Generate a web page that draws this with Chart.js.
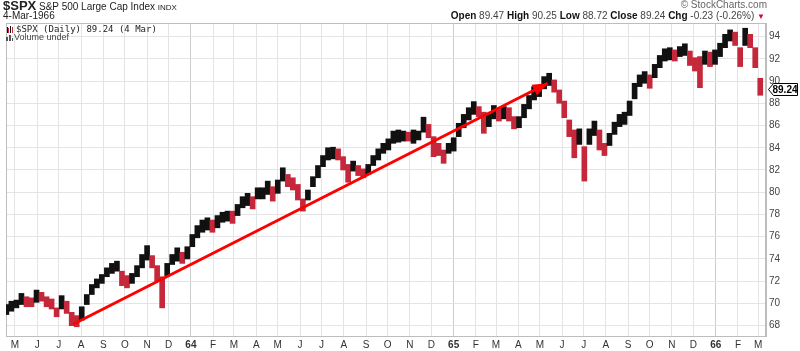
<!DOCTYPE html>
<html>
<head>
<meta charset="utf-8">
<script src="https://cdn.jsdelivr.net/npm/chart.js@4.4.1/dist/chart.umd.min.js"></script>
<style>
  html, body { margin: 0; padding: 0; background: #fff; }
  #wrap { position: relative; width: 800px; height: 351px; font-family: "Liberation Sans", Arial, sans-serif; font-size: 10px; color: #222; }
  #chart { position: absolute; left: 0; top: 0; }
  .t { position: absolute; white-space: nowrap; line-height: 1; }
  .mono { font-family: "DejaVu Sans Mono", "Liberation Mono", monospace; }
</style>
</head>
<body>
<div id="wrap">
  <canvas id="chart" width="800" height="351"></canvas>
  <div class="t" style="left:3px; top:-1px;"><b style="font-size:13px">$SPX</b> <span style="font-size:10px">S&amp;P 500 Large Cap Index</span> <span style="font-size:8px">INDX</span></div>
  <div class="t" style="left:3px; top:11px; font-size:10px;">4-Mar-1966</div>
  <div class="t" style="right:33px; top:0px; font-size:10px; color:#666;">&copy; StockCharts.com</div>
  <div class="t" style="right:35px; top:11px; font-size:10px; color:#444;"><b style="color:#111">Open</b> 89.47 <b style="color:#111">High</b> 90.25 <b style="color:#111">Low</b> 88.72 <b style="color:#111">Close</b> 89.24 <b style="color:#111">Chg</b> -0.23 (-0.26%) <span style="color:#c8102e; font-size:8px;">&#9660;</span></div>
  <div class="t mono" style="left:16px; top:25px; font-size:9px;">$SPX (Daily) 89.24 (4 Mar)</div>
  <div class="t" style="left:14px; top:33px; font-size:9px; color:#444;">Volume undef</div>
</div>
<script>
// weekly ranges, week ending Fri 19-Apr-1963 .. Fri 4-Mar-1966
const firstWeek = Date.UTC(1963, 3, 19);
const weekLow = [
  69.0, 69.3, 69.6, 69.9, 69.7, 69.7, 70.1, 70.2, 69.7, 69.5,
  68.8, 69.5, 69.1, 68.0, 67.9, 68.5, 69.9, 70.8, 71.4, 71.8,
  72.4, 72.7, 72.9, 71.6, 71.4, 71.8, 72.4, 73.2, 73.9, 73.2,
  72.0, 69.6, 72.5, 73.5, 73.8, 73.6, 74.0, 75.1, 75.9, 76.4,
  76.6, 76.4, 76.8, 77.3, 77.4, 77.2, 77.9, 78.6, 78.8, 78.5,
  79.4, 79.4, 79.8, 79.2, 79.9, 81.0, 80.5, 80.2, 79.3, 78.3,
  79.3, 80.5, 81.3, 82.3, 82.9, 83.0, 82.9, 82.0, 80.9, 81.9,
  81.5, 81.3, 81.6, 82.4, 82.9, 83.5, 83.8, 84.4, 84.5, 84.6,
  84.6, 84.4, 84.7, 85.4, 84.9, 83.2, 83.3, 82.6, 83.5, 83.7,
  85.0, 85.8, 86.5, 87.0, 86.8, 85.3, 85.9, 86.6, 86.4, 86.6,
  86.4, 85.7, 85.8, 86.7, 87.5, 88.3, 88.6, 89.3, 89.6, 89.0,
  88.0, 86.7, 85.0, 83.1, 84.3, 81.0, 84.3, 85.1, 83.8, 83.3,
  84.2, 85.2, 85.9, 86.1, 86.9, 88.4, 89.5, 89.8, 89.35, 90.3,
  91.2, 91.8, 91.9, 91.8, 92.2, 92.3, 91.4, 90.9, 89.4, 91.5,
  91.3, 91.5, 92.2, 93.0, 93.6, 93.2, 91.3, 93.2, 93.0, 91.2,
  88.72
];
const weekHigh = [
  69.9, 70.2, 70.3, 70.9, 70.6, 70.5, 71.2, 71.0, 70.6, 70.4,
  69.6, 70.7, 70.2, 69.2, 68.9, 69.7, 70.8, 71.7, 72.2, 72.6,
  73.2, 73.6, 73.8, 72.9, 72.5, 72.7, 73.4, 74.4, 75.2, 74.3,
  73.4, 72.4, 73.6, 74.4, 75.0, 74.6, 75.1, 76.2, 77.0, 77.5,
  77.7, 77.5, 77.9, 78.2, 78.3, 78.3, 78.9, 79.6, 79.9, 79.6,
  80.4, 80.4, 81.0, 80.5, 81.1, 82.2, 81.6, 81.3, 80.7, 79.4,
  80.2, 81.4, 82.4, 83.3, 84.0, 84.05, 83.9, 83.2, 82.5, 82.8,
  82.4, 82.1, 82.5, 83.3, 83.9, 84.4, 84.8, 85.5, 85.6, 85.5,
  85.4, 85.6, 85.5, 86.75, 86.1, 85.0, 84.4, 83.8, 84.4, 84.9,
  86.2, 87.0, 87.6, 88.15, 87.7, 87.2, 87.0, 87.8, 87.6, 87.7,
  87.6, 86.8, 86.8, 87.9, 88.7, 89.5, 89.6, 90.4, 90.7, 90.1,
  89.2, 88.2, 86.5, 85.6, 85.7, 84.1, 85.7, 86.4, 85.6, 84.4,
  85.3, 86.3, 87.0, 87.2, 88.2, 89.8, 90.55, 90.85, 90.55, 91.5,
  92.3, 92.9, 93.0, 92.8, 93.1, 93.35, 92.7, 92.1, 92.2, 92.7,
  92.6, 92.8, 93.4, 94.2, 94.6, 94.4, 93.0, 94.75, 94.2, 93.0,
  90.25
];
const monthLabels = ['M','J','J','A','S','O','N','D','64','F','M','A','M','J','J','A','S','O','N','D',
  '65','F','M','A','M','J','J','A','S','O','N','D','66','F','M'];
const yTicks = [68, 70, 72, 74, 76, 78, 80, 82, 84, 86, 88, 90, 92, 94];
const lastClose = 89.24;
const trendDates = [Date.UTC(1963, 6, 21), Date.UTC(1965, 4, 12)];
const trendValues = [68.13, 89.8];

const DAY = 86400000;
const origin = Date.UTC(1963, 4, 1);
const toDay = t => (t - origin) / DAY;
const monthDays = monthLabels.map((l, i) => toDay(Date.UTC(1963, 4 + i, 1)));
const weekDays = weekLow.map((v, i) => toDay(firstWeek + i * 7 * DAY));

const UP = '#111111';
const DOWN = '#c4283a';
const barColors = weekLow.map((lo, i) => {
  if (i === 0) return UP;
  const mid = (lo + weekHigh[i]) / 2;
  const prev = (weekLow[i - 1] + weekHigh[i - 1]) / 2;
  return mid >= prev ? UP : DOWN;
});

const frame = {
  id: 'frame',
  beforeDatasetsDraw(chart) {
    const a = chart.chartArea, c = chart.ctx;
    c.save();
    c.strokeStyle = '#bdbdbd';
    c.lineWidth = 1;
    c.strokeRect(a.left + 0.5, a.top + 0.5, a.right - a.left - 1, a.bottom - a.top);
    c.restore();
  },
  afterDatasetsDraw(chart) {
    // arrow head on the trend line
    const pts = chart.getDatasetMeta(0).data;
    const p0 = pts[0], p1 = pts[1];
    const ang = Math.atan2(p1.y - p0.y, p1.x - p0.x);
    const c = chart.ctx, len = 15, half = 6;
    c.save();
    c.fillStyle = '#ff0000';
    c.translate(p1.x, p1.y);
    c.rotate(ang);
    c.beginPath();
    c.moveTo(0, 0);
    c.lineTo(-len, -half);
    c.lineTo(-len, half);
    c.closePath();
    c.fill();
    c.restore();
  },
  afterDraw(chart) {
    // last price flag on the right axis
    const c = chart.ctx;
    const y = Math.round(chart.scales.y.getPixelForValue(lastClose)) + 0.5;
    const x = chart.chartArea.right + 2.5;
    c.save();
    c.fillStyle = '#fff';
    c.strokeStyle = '#000';
    c.lineWidth = 1;
    c.beginPath();
    c.moveTo(x, y);
    c.lineTo(x + 5, y - 6);
    c.lineTo(x + 29, y - 6);
    c.lineTo(x + 29, y + 6);
    c.lineTo(x + 5, y + 6);
    c.closePath();
    c.fill();
    c.stroke();
    c.fillStyle = '#000';
    c.font = 'bold 10px "Liberation Sans", Arial, sans-serif';
    c.textBaseline = 'middle';
    c.fillText(lastClose.toFixed(2), x + 4, y + 0.5);
    c.restore();
  }
};

const iconPlugin = {
  id: 'icons',
  afterDraw(chart) {
    const c = chart.ctx;
    c.save();
    // price legend icon
    c.fillStyle = '#111';
    c.fillRect(7, 27, 1, 6); c.fillRect(10, 26, 1, 7);
    c.fillStyle = DOWN;
    c.fillRect(8, 28, 1, 5); c.fillRect(12, 27, 1, 6);
    // volume legend icon
    c.fillStyle = '#555';
    c.fillRect(6, 37, 2, 4); c.fillRect(9, 35, 2, 6); c.fillRect(12, 38, 1, 3);
    c.restore();
  }
};

new Chart(document.getElementById('chart').getContext('2d'), {
  type: 'bar',
  data: {
    datasets: [
      {
        type: 'line',
        order: 0,
        data: trendDates.map((d, i) => ({ x: toDay(d), y: trendValues[i] })),
        borderColor: '#ff0000',
        borderWidth: 3,
        pointRadius: 0,
        fill: false
      },
      {
        type: 'bar',
        order: 1,
        data: weekLow.map((lo, i) => ({ x: weekDays[i], y: [lo, weekHigh[i]] })),
        backgroundColor: barColors,
        barThickness: 5,
        borderWidth: 0
      }
    ]
  },
  options: {
    responsive: false,
    animation: false,
    layout: { padding: { left: 6, top: 23, right: 0, bottom: 0 } },
    plugins: { legend: { display: false }, tooltip: { enabled: false } },
    scales: {
      x: {
        type: 'linear',
        position: 'bottom',
        offset: false,
        min: -12.5,
        max: 1046,
        afterBuildTicks: s => { s.ticks = monthDays.map(v => ({ value: v })); },
        afterFit: s => { s.height = 15; },
        grid: {
          offset: false,
          drawTicks: false,
          color: ctx => /\d/.test(monthLabels[ctx.index] || '') ? '#cccccc' : '#e4e4e4'
        },
        border: { color: '#bdbdbd' },
        ticks: {
          autoSkip: false,
          maxRotation: 0,
          padding: 3,
          color: '#333',
          callback: (v, i) => monthLabels[i],
          font: ctx => ({ size: 10, weight: /\d/.test(monthLabels[ctx.index] || '') ? 'bold' : 'normal', family: '"Liberation Sans", Arial, sans-serif' })
        }
      },
      y: {
        type: 'linear',
        position: 'right',
        min: 67.07,
        max: 95.22,
        afterBuildTicks: s => { s.ticks = yTicks.map(v => ({ value: v })); },
        afterFit: s => { s.width = 34; },
        grid: { drawTicks: false, color: '#e4e4e4' },
        border: { color: '#bdbdbd' },
        ticks: {
          padding: 3,
          color: '#444',
          font: { size: 10, family: '"Liberation Sans", Arial, sans-serif' }
        }
      }
    }
  },
  plugins: [frame, iconPlugin]
});
</script>
</body>
</html>
